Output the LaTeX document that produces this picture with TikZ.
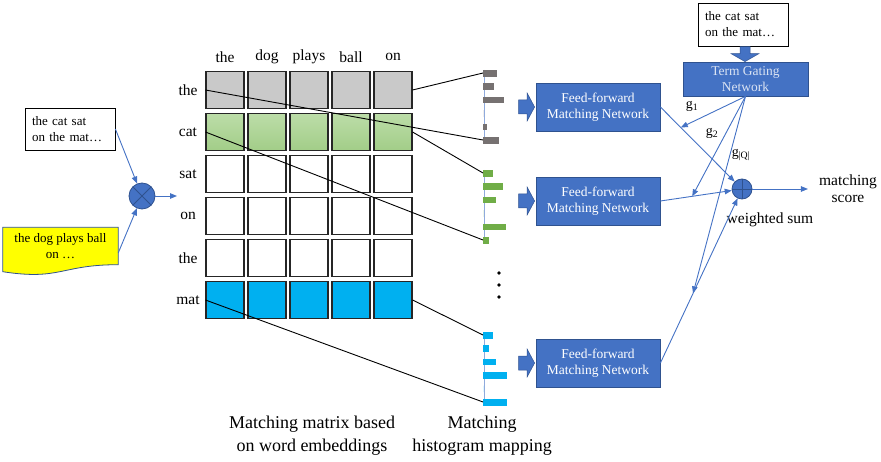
\documentclass[tikz,border=0pt]{standalone}
\usepackage{fontspec}
\setmainfont{Liberation Serif}
\usetikzlibrary{arrows.meta,positioning,calc,backgrounds}
\definecolor{NetBlue}{HTML}{4472C4}
\definecolor{NetEdge}{HTML}{2F528F}
\definecolor{GateText}{HTML}{DAE3F3}
\definecolor{CellGray}{HTML}{C9C9C9}
\definecolor{CellGreenTop}{HTML}{BCDDA8}
\definecolor{CellGreenBot}{HTML}{A2CD88}
\definecolor{CellBlue}{HTML}{00B0F0}
\definecolor{HistGray}{HTML}{767171}
\definecolor{HistGreen}{HTML}{70AD47}
\definecolor{AxisBlue}{HTML}{8FAADC}
\definecolor{DocYellow}{HTML}{FFFF00}

\begin{document}
\begin{tikzpicture}[x=1pt, y=-1pt,
  cell/.style={draw=black!85, line width=1.1pt, minimum width=38pt,
               minimum height=37pt, inner sep=0pt},
  graycell/.style={fill=CellGray},
  greencell/.style={top color=CellGreenTop, bottom color=CellGreenBot},
  plaincell/.style={fill=white},
  bluecell/.style={fill=CellBlue},
  word/.style={font=\fontsize{15.5}{17}\selectfont, inner sep=0pt},
  textbox/.style={draw, line width=0.8pt, align=left, text width=76pt,
                  minimum height=42pt, inner xsep=7pt, inner ysep=0pt,
                  font=\fontsize{13}{16}\selectfont},
  ffnet/.style={fill=NetBlue, draw=NetEdge, line width=0.8pt,
                minimum width=124pt, minimum height=48pt, inner sep=0pt,
                text=white, align=center, font=\fontsize{13.5}{16}\selectfont},
  gatenet/.style={ffnet, minimum width=125pt, minimum height=34pt, text=GateText},
  blockfill/.style={fill=NetBlue, draw=NetEdge, line width=0.5pt},
  blockarr/.pic={\path[blockfill] (0,0) -- (-7.5,-14) -- (-7.5,-7) -- (-16,-7)
      -- (-16,7) -- (-7.5,7) -- (-7.5,14) -- cycle;},
  gatearr/.pic={\path[blockfill] (0,0) -- (-8,-14) -- (-8,-5) -- (-15,-5)
      -- (-15,5) -- (-8,5) -- (-8,14) -- cycle;},
  op/.style={circle, fill=NetBlue, draw=NetEdge, line width=0.8pt,
             minimum size=#1, inner sep=0pt},
  times/.style={path picture={\draw[NetEdge, line width=0.8pt]
      (path picture bounding box.north west) -- (path picture bounding box.south east)
      (path picture bounding box.north east) -- (path picture bounding box.south west);}},
  plus/.style={path picture={\draw[NetEdge, line width=0.8pt]
      (path picture bounding box.north) -- (path picture bounding box.south)
      (path picture bounding box.east) -- (path picture bounding box.west);}},
  link/.style={-{Triangle[length=7pt,width=5.5pt]}, NetBlue, line width=0.9pt},
  tie/.style={black, line width=0.9pt},
  glabel/.style={font=\fontsize{14}{16}\selectfont, inner sep=0pt},
  caption/.style={align=center, font=\fontsize{18}{23}\selectfont, inner sep=0pt}
]
\useasboundingbox (0,0) rectangle (881,462);

% query and document
\node[textbox] (doc-q) at (70,129) {the cat sat\\on the mat…};
\node[align=center, minimum width=115pt, minimum height=37pt, inner sep=0pt,
      font=\fontsize{13}{16}\selectfont] (doc-d) at (60.5,246) {the dog plays ball\\on …};
\begin{scope}[on background layer]
\draw[fill=DocYellow, draw=NetEdge, line width=0.8pt]
  (doc-d.north west) -- (doc-d.north east) -- (doc-d.south east)
  .. controls ($(doc-d.south)$) and ($(doc-d.south)+(0,16)$) ..
  ($(doc-d.south west)+(0,7)$) -- cycle;
\end{scope}
\node[op=26pt, times] (mul) at (142,196) {};
\coordinate (mul-out) at (177,196);
\draw[link] (doc-q.east) -- (mul);
\draw[link] ($(doc-d.east)+(0,7)$) -- (mul);
\draw[link] (mul) -- (mul-out);

% matching matrix
\foreach \w [count=\c] in {the,dog,plays,ball,on}
  \node[word] (col-\c) at (183+42*\c,57) {\w};
\foreach \w/\look [count=\r] in {the/graycell,cat/greencell,sat/plaincell,
                                 on/plaincell,the/plaincell,mat/bluecell} {
  \node[word] (row-\r) at (188,48+42*\r) {\w};
  \foreach \c in {1,...,5}
    \node[cell, \look] (c-\r-\c) at (183+42*\c,48+42*\r) {};
}

% histograms
\foreach \hname/\htop/\hcol/\hvals in {hg/70/HistGray/{14,11,21,0,4,16},
    hr/170/HistGreen/{10,20,13,0,23,6}, hb/332/CellBlue/{10,6,13,24,0,24}} {
  \draw[AxisBlue, line width=1pt] (484,\htop) -- (484,\htop+73.6);
  \foreach \len [count=\k] in \hvals
    \fill[\hcol] (483,\htop+13.4*\k-13.4) rectangle ++(\len,6.6);
  \coordinate (\hname-top) at (483,\htop+3);
  \coordinate (\hname-bot) at (483,\htop+70);
}
\draw[tie] (c-1-5.east) -- (hg-top);
\draw[tie] (c-1-1.west) -- (hg-bot);
\draw[tie] (c-2-5.east) -- (hr-top);
\draw[tie] (c-2-1.west) -- (hr-bot);
\draw[tie] (c-6-5.east) -- (hb-top);
\draw[tie] (c-6-1.west) -- (hb-bot);
\foreach \y in {273,285,297}
  \fill (499,\y) circle (1.8pt);

% matching networks
\node[ffnet] (ff1) at (598,107) {Feed-forward\\Matching Network};
\node[ffnet] (ff2) at (598,201) {Feed-forward\\Matching Network};
\node[ffnet] (ff3) at (598,363) {Feed-forward\\Matching Network};
\foreach \f in {ff1,ff2,ff3}
  \pic at ([xshift=-1pt]\f.west) {blockarr};

% term gating
\node[textbox, minimum height=43pt] (gate-q) at (743,24.5) {the cat sat\\on the mat…};
\node[gatenet] (gate) at (745.5,79) {Term Gating\\Network};
\pic[rotate=-90] at ([xshift=-0.5pt]gate.north) {gatearr};

% weighted sum
\node[op=20pt, plus] (sum) at (742,189) {};
\node[word, align=center, inner xsep=11pt] (score) at (848,189) {matching\\score};
\node[word] (sum-label) at (770,220) {weighted sum};
\draw[link] (sum) -- (score.west);
\draw[link] (ff1.east) -- (sum);
\draw[link] (ff2.east) -- (sum);
\draw[link] (ff3.east) -- (sum);
\coordinate (j1) at ($(ff1.east)!0.25!(sum)$);
\coordinate (j2) at ($(ff2.east)!0.39!(sum)$);
\coordinate (j3) at ($(ff3.east)!0.4!(sum)$);
\draw[link] (gate.south) -- (j1);
\draw[link] (gate.south) -- (j2);
\draw[link] (gate.south) -- (j3);
\node[glabel] (g1) at (692,106) {g\textsubscript{1}};
\node[glabel] (g2) at (712,133) {g\textsubscript{2}};
\node[glabel] (gq) at (741,155) {g\textsubscript{|Q|}};

% captions
\node[caption] (cap-matrix) at (312,436) {Matching matrix based\\on word embeddings};
\node[caption] (cap-hist) at (482,436) {Matching\\histogram mapping};
\end{tikzpicture}
\end{document}
